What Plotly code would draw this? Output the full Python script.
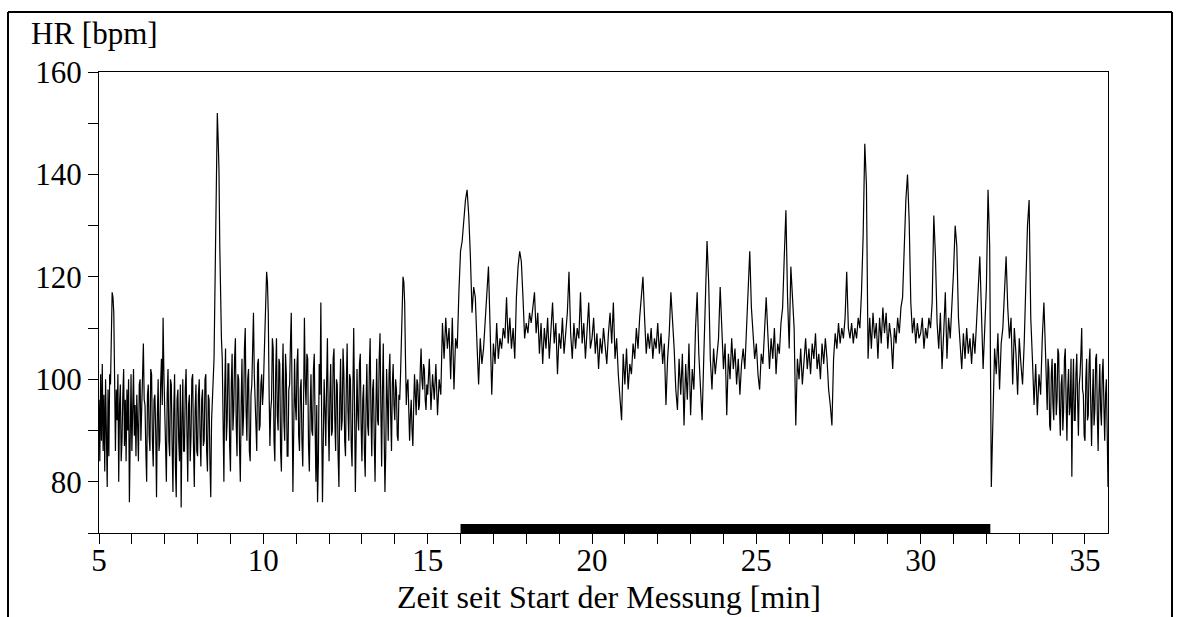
import plotly.graph_objects as go

# ---------------- data ----------------
# heart rate [bpm]; each segment: start time [min], sampling step [min], values
hr_05_10 = [96, 84, 101, 88, 103, 86, 97, 82, 100, 90,
            79, 98, 85, 101, 99, 108, 117, 116, 113, 100,
            86, 98, 92, 101, 80, 95, 99, 84, 88, 97,
            102, 87, 96, 84, 98, 90, 100, 76, 92, 101,
            86, 97, 102, 89, 95, 85, 97, 91, 84, 99,
            100, 88, 94, 105, 107, 96, 95, 86, 80, 97,
            99, 89, 86, 102, 101, 88, 83, 96, 97, 90,
            77, 93, 100, 86, 88, 99, 104, 95, 112, 101,
            94, 85, 80, 97, 102, 88, 85, 100, 99, 87,
            78, 94, 101, 83, 77, 96, 98, 88, 84, 99,
            75, 92, 100, 86, 86, 98, 102, 90, 80, 95,
            97, 84, 89, 100, 101, 87, 79, 94, 99, 86,
            85, 97, 100, 89, 83, 96, 98, 87, 88, 100,
            101, 86, 82, 97, 96, 84, 77, 92, 98, 100,
            104, 116, 128, 140, 152, 147, 141, 126, 113, 108,
            104, 92, 80, 98, 106, 88, 92, 103, 103, 87,
            82, 99, 105, 90, 94, 104, 108, 91, 85, 101,
            100, 87, 80, 95, 104, 89, 93, 106, 110, 94,
            88, 100, 102, 86, 84, 97, 99, 106, 113, 101,
            96, 88, 86, 103, 104, 90, 91, 99, 101, 95]

hr_10_15 = [98, 104, 109, 116, 121, 119, 113, 98, 87, 94,
            96, 108, 106, 88, 84, 101, 108, 93, 90, 104,
            103, 86, 82, 99, 107, 92, 88, 105, 101, 85,
            85, 98, 99, 107, 113, 96, 78, 90, 104, 95,
            92, 103, 106, 89, 86, 98, 100, 88, 83, 96,
            112, 99, 95, 105, 104, 87, 82, 94, 101, 90,
            89, 102, 105, 91, 80, 95, 76, 84, 103, 97,
            115, 92, 76, 88, 100, 94, 87, 99, 108, 93,
            84, 97, 103, 89, 90, 104, 106, 92, 86, 100,
            99, 85, 79, 96, 104, 90, 92, 106, 101, 88,
            85, 99, 107, 94, 88, 101, 100, 87, 83, 98,
            110, 95, 78, 89, 102, 93, 90, 103, 105, 91,
            84, 96, 99, 86, 81, 95, 103, 91, 89, 102,
            108, 93, 85, 98, 100, 88, 80, 94, 104, 92,
            91, 104, 109, 95, 83, 98, 107, 90, 78, 86,
            102, 96, 88, 101, 105, 93, 86, 99, 103, 95,
            92, 100, 98, 89, 88, 97, 96, 101, 108, 114,
            120, 119, 115, 104, 95, 99, 100, 94, 88, 93,
            96, 90, 87, 95, 101, 97, 93, 100, 99, 94,
            95, 102, 106, 100, 98, 103, 102, 96, 94, 99]

hr_15_20 = [97, 104, 94, 101, 96, 103, 93, 100, 97, 111,
            104, 112, 106, 110, 100, 112, 98, 108, 106, 117,
            125, 127, 131, 135, 137, 132, 124, 113, 118, 116,
            107, 99, 108, 103, 106, 111, 117, 122, 110, 97,
            107, 103, 111, 104, 108, 106, 110, 108, 116, 107,
            112, 106, 110, 104, 116, 122, 125, 123, 116, 108,
            111, 109, 113, 111, 114, 117, 109, 113, 105, 111,
            103, 110, 106, 112, 104, 110, 115, 107, 111, 101,
            109, 106, 112, 105, 110, 113, 121, 109, 104, 111,
            106, 110, 108, 117, 107, 111, 104, 109, 115, 106]

hr_20_25 = [108, 112, 105, 109, 102, 108, 105, 110, 106, 103,
            109, 113, 107, 115, 104, 108, 101, 96, 92, 105,
            99, 106, 98, 103, 101, 107, 104, 110, 106, 112,
            116, 120, 112, 105, 109, 106, 110, 104, 108, 106,
            111, 105, 109, 103, 107, 95, 104, 109, 117, 112,
            106, 98, 94, 104, 97, 105, 91, 103, 96, 107,
            93, 102, 98, 110, 117, 105, 99, 92, 104, 115,
            127, 119, 104, 98, 106, 101, 105, 108, 118, 110,
            102, 107, 93, 105, 100, 108, 102, 106, 99, 104,
            97, 103, 106, 102, 110, 118, 125, 114, 108, 104]

hr_25_30 = [107, 101, 98, 105, 103, 110, 116, 109, 102, 108,
            104, 110, 101, 107, 105, 111, 114, 124, 133, 116,
            106, 122, 116, 110, 91, 104, 100, 106, 99, 104,
            108, 102, 106, 101, 107, 104, 109, 102, 105, 100,
            107, 103, 108, 104, 98, 95, 91, 104, 109, 106,
            111, 107, 110, 108, 112, 121, 110, 108, 111, 107,
            110, 108, 112, 110, 117, 128, 146, 138, 104, 112,
            106, 113, 108, 111, 104, 112, 107, 114, 109, 113,
            106, 111, 108, 102, 110, 107, 112, 109, 114, 116,
            126, 135, 140, 131, 115, 109, 112, 107, 111, 108]

hr_30_34 = [109, 112, 106, 110, 108, 112, 110, 115, 132, 124,
            111, 106, 113, 102, 109, 117, 104, 112, 108, 114,
            121, 130, 126, 112, 106, 102, 109, 104, 110, 105,
            108, 103, 109, 105, 111, 117, 124, 113, 102, 110,
            118, 137, 126, 79, 96, 106, 101, 109, 98, 107,
            110, 116, 124, 114, 108, 112, 99, 110, 105, 97,
            108, 103, 99, 107, 118, 130, 135, 112, 104, 95,
            103, 93, 101, 97, 108, 115]

hr_34_end = [105, 96, 94, 104, 102, 91, 90, 101, 104, 95,
             92, 103, 103, 93, 96, 106, 105, 94, 89, 99,
             101, 90, 94, 104, 106, 96, 88, 98, 102, 93,
             95, 104, 81, 97, 104, 92, 92, 101, 105, 96,
             89, 99, 101, 105, 110, 98, 97, 89, 88, 100,
             104, 92, 93, 103, 106, 95, 87, 96, 102, 91,
             94, 104, 105, 93, 86, 97, 103, 94, 91, 101,
             104, 95, 88, 97, 100, 90, 79]

segments = [  # (start [min], step [min], values)
    (5.0, 0.025, hr_05_10),
    (10.0, 0.025, hr_10_15),
    (15.0, 0.05, hr_15_20),
    (20.0, 0.05, hr_20_25),
    (25.0, 0.05, hr_25_30),
    (30.0, 0.05, hr_30_34),
    (33.8, 0.025, hr_34_end),
]

# measurement phase marked by the black bar (start, end) in min
phase = [16.0, 32.12]
phase_level = [70.0, 71.75]   # bpm, bar bottom/top

x_range = [5, 35.7]
y_range = [70, 160]
x_tick_vals = [5, 10, 15, 20, 25, 30, 35]
y_tick_vals = [80, 100, 120, 140, 160]

t, hr = [], []
for start, step, vals in segments:
    t += [start + step * i for i in range(len(vals))]
    hr += vals

# ---------------- figure ----------------
FONT = "Liberation Serif"
FS = 31
W, H = 1183, 617
ML, MR, MT, MB = 99, 75, 72, 84
PW, PH = W - ML - MR, H - MT - MB


def px(xp):
    return (xp - ML) / PW


def py(yp):
    return (H - MB - yp) / PH


fig = go.Figure()
fig.add_trace(go.Scatter(x=t, y=hr, mode="lines",
                         line=dict(color="black", width=1.2),
                         hoverinfo="x+y", showlegend=False))

fig.add_shape(type="rect", xref="x", yref="y",
              x0=phase[0], x1=phase[1], y0=phase_level[0], y1=phase_level[1],
              fillcolor="black", line=dict(width=0))

# outer frame of the figure
frame = dict(color="black", width=2)
fig.add_shape(type="line", xref="paper", yref="paper",
              x0=px(8), x1=px(8), y0=py(12), y1=py(620), line=frame)
fig.add_shape(type="line", xref="paper", yref="paper",
              x0=px(8), x1=px(1172), y0=py(12), y1=py(12), line=frame)
fig.add_shape(type="line", xref="paper", yref="paper",
              x0=px(1172), x1=px(1172), y0=py(12), y1=py(620), line=frame)

fig.add_annotation(text="HR [bpm]", xref="paper", yref="paper",
                   x=px(29), y=py(34), xanchor="left", yanchor="middle",
                   showarrow=False, font=dict(family=FONT, size=FS, color="black"))
fig.add_annotation(text="Zeit seit Start der Messung [min]", xref="paper", yref="paper",
                   x=px(609), y=py(597), xanchor="center", yanchor="middle",
                   showarrow=False, font=dict(family=FONT, size=32, color="black"))

axis_common = dict(showline=True, linecolor="black", linewidth=1, mirror=True,
                   showgrid=False, zeroline=False,
                   tickfont=dict(family=FONT, size=FS, color="black"))

fig.update_xaxes(range=x_range, tickmode="array", tickvals=x_tick_vals,
                 ticks="",
                 minor=dict(tick0=5, dtick=1, ticks="outside", ticklen=10,
                            tickcolor="black", tickwidth=1, showgrid=False),
                 **axis_common)
fig.update_yaxes(range=y_range, tickmode="array", tickvals=y_tick_vals,
                 ticks="outside", ticklen=10, tickwidth=1, tickcolor="black",
                 minor=dict(tick0=70, dtick=10, ticks="outside", ticklen=10,
                            tickcolor="black", tickwidth=1, showgrid=False),
                 **axis_common)

fig.update_layout(width=W, height=H,
                  margin=dict(l=ML, r=MR, t=MT, b=MB, pad=0),
                  paper_bgcolor="white", plot_bgcolor="white",
                  font=dict(family=FONT, color="black"),
                  showlegend=False)

fig.write_html("out.html", include_plotlyjs=True, full_html=True,
               config={"displayModeBar": False})
